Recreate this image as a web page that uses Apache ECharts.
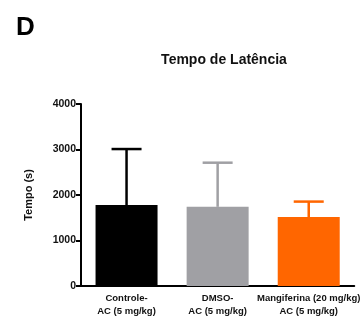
<!DOCTYPE html>
<html>
<head>
<meta charset="utf-8">
<script src="https://cdn.jsdelivr.net/npm/echarts@6/dist/echarts.min.js"></script>
<style>
  html, body { margin: 0; padding: 0; background: #fff; }
  #chart { width: 363px; height: 322px; }
</style>
</head>
<body>
<div id="chart"></div>
<script>
// Groups, mean latency and upper error (mean + SD)
const categories = ['Controle-\nAC (5 mg/kg)', 'DMSO-\nAC (5 mg/kg)', 'Mangiferina (20 mg/kg)\nAC (5 mg/kg)'];
const means = [1780, 1740, 1515];
const errorTops = [3010, 2710, 1855];
const barColors = ['#000000', '#a0a0a4', '#ff6600'];
const yTicks = [0, 1000, 2000, 3000, 4000];

const FONT = '"Liberation Sans", Arial, sans-serif';
const chart = echarts.init(document.getElementById('chart'), null, { renderer: 'canvas' });

chart.setOption({
  backgroundColor: '#fff',
  animation: false,
  title: [
    { text: 'D', left: 11, top: 10, textStyle: { fontFamily: FONT, fontWeight: 'bold', fontSize: 26, color: '#000' } },
    { text: 'Tempo de Latência', left: 219, top: 48, textAlign: 'center',
      textStyle: { fontFamily: FONT, fontWeight: 'bold', fontSize: 14, color: '#111' } }
  ],
  grid: { left: 81, right: 6, top: 104, bottom: 36 },
  xAxis: {
    type: 'category',
    data: categories,
    axisLine: { lineStyle: { color: '#000', width: 2 } },
    axisTick: { alignWithLabel: true, length: 5, lineStyle: { color: '#000', width: 2 } },
    axisLabel: { fontFamily: FONT, fontWeight: 'bold', fontSize: 9.5, color: '#111', lineHeight: 13, margin: 6, interval: 0 }
  },
  yAxis: {
    type: 'value',
    min: yTicks[0],
    max: yTicks[yTicks.length - 1],
    interval: 1000,
    name: 'Tempo (s)',
    nameLocation: 'middle',
    nameGap: 47,
    nameTextStyle: { fontFamily: FONT, fontWeight: 'bold', fontSize: 11, color: '#111' },
    axisLine: { show: true, lineStyle: { color: '#000', width: 2 } },
    axisTick: { show: true, length: 5, lineStyle: { color: '#000', width: 2 } },
    axisLabel: { fontFamily: FONT, fontWeight: 'bold', fontSize: 10.5, color: '#111', margin: 5,
      formatter: function (v) { return String(v); } },
    splitLine: { show: false }
  },
  series: [
    {
      type: 'bar',
      barWidth: 62,
      data: means.map((v, i) => ({ value: v, itemStyle: { color: barColors[i] } }))
    },
    {
      type: 'custom',
      data: means.map((v, i) => [i, v, errorTops[i]]),
      renderItem: function (params, api) {
        const i = api.value(0);
        const base = api.coord([i, api.value(1)]);
        const top = api.coord([i, api.value(2)]);
        const half = 15;
        const style = { stroke: barColors[i], lineWidth: 2.5, fill: null };
        return {
          type: 'group',
          children: [
            { type: 'line', shape: { x1: base[0], y1: base[1], x2: top[0], y2: top[1] }, style: style },
            { type: 'line', shape: { x1: top[0] - half, y1: top[1], x2: top[0] + half, y2: top[1] }, style: style }
          ]
        };
      },
      z: 1
    }
  ]
});
</script>
</body>
</html>
